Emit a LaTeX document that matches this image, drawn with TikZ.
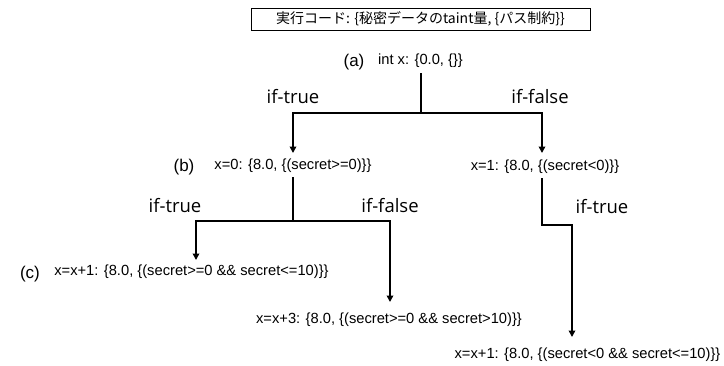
\documentclass[tikz,border=0pt]{standalone}
\usepackage{fontspec}
\setmainfont{Liberation Sans}
\newfontfamily\cjk{Noto Sans CJK JP}
\newfontfamily\lblfont{Open Sans}
\usetikzlibrary{arrows.meta}
\begin{document}
\begin{tikzpicture}[x=1pt,y=-1pt,
  state/.style={inner sep=0pt,font=\fontsize{14.7}{16}\selectfont},
  tag/.style={inner sep=0pt,font=\fontsize{17}{19}\selectfont},
  branch/.style={inner sep=0pt,font=\lblfont\fontsize{18.5}{20}\selectfont},
  conn/.style={line width=2.2pt},
  arr/.style={line width=2.2pt,line join=miter,-{Triangle[width=6.5pt,length=6.5pt]}}]
\useasboundingbox (0,0) rectangle (724,365);
% title
\node[draw,line width=0.6pt,minimum width=339pt,minimum height=22pt,inner sep=2pt,font=\cjk\fontsize{14}{16}\selectfont] (title) at (420.5,19) {実行コード: \{秘密データのtaint量, \{パス制約\}\}};
% labels
\node[tag] (la) at (354,62) {(a)};
\node[tag] (lb) at (184,167) {(b)};
\node[tag] (lc) at (30,274) {(c)};
% states
\node[state] (sa) at (420.5,61) {int x: \{0.0, \{\}\}};
\node[state] (sb) at (293,166) {x=0: \{8.0, \{(secret>=0)\}\}};
\node[state] (sb2) at (545,167) {x=1: \{8.0, \{(secret<0)\}\}};
\node[state] (sc1) at (191.5,272) {x=x+1: \{8.0, \{(secret>=0 \&\& secret<=10)\}\}};
\node[state] (sc2) at (389,320) {x=x+3: \{8.0, \{(secret>=0 \&\& secret>10)\}\}};
\node[state] (sc3) at (587.5,355) {x=x+1: \{8.0, \{(secret<0 \&\& secret<=10)\}\}};
% branch labels
\node[branch] (t1) at (293,97) {if-true};
\node[branch] (f1) at (540,97) {if-false};
\node[branch] (t2) at (175,206) {if-true};
\node[branch] (f2) at (390,206) {if-false};
\node[branch] (t3) at (602,207) {if-true};
% coordinates
\coordinate (a0) at (421,73);
\coordinate (a1) at (421,113);
\coordinate (a2) at (293,113);
\coordinate (a3) at (542,113);
\coordinate (b1e) at (293,153);
\coordinate (b2e) at (542,153);
\coordinate (b0) at (293,177);
\coordinate (b1) at (293,221);
\coordinate (b2) at (196,221);
\coordinate (b3) at (390,221);
\coordinate (c1e) at (196,260);
\coordinate (c2e) at (390,302);
\coordinate (d0) at (542,178);
\coordinate (d1) at (542,225);
\coordinate (d2) at (572,225);
\coordinate (d3e) at (572,337);
% connectors
\draw[conn] (a0) -- (a1);
\draw[arr] (a1) -- (a2) -- (b1e);
\draw[arr] (a1) -- (a3) -- (b2e);
\draw[conn] (b0) -- (b1);
\draw[arr] (b1) -- (b2) -- (c1e);
\draw[arr] (b1) -- (b3) -- (c2e);
\draw[arr] (d0) -- (d1) -- (d2) -- (d3e);
\end{tikzpicture}
\end{document}
